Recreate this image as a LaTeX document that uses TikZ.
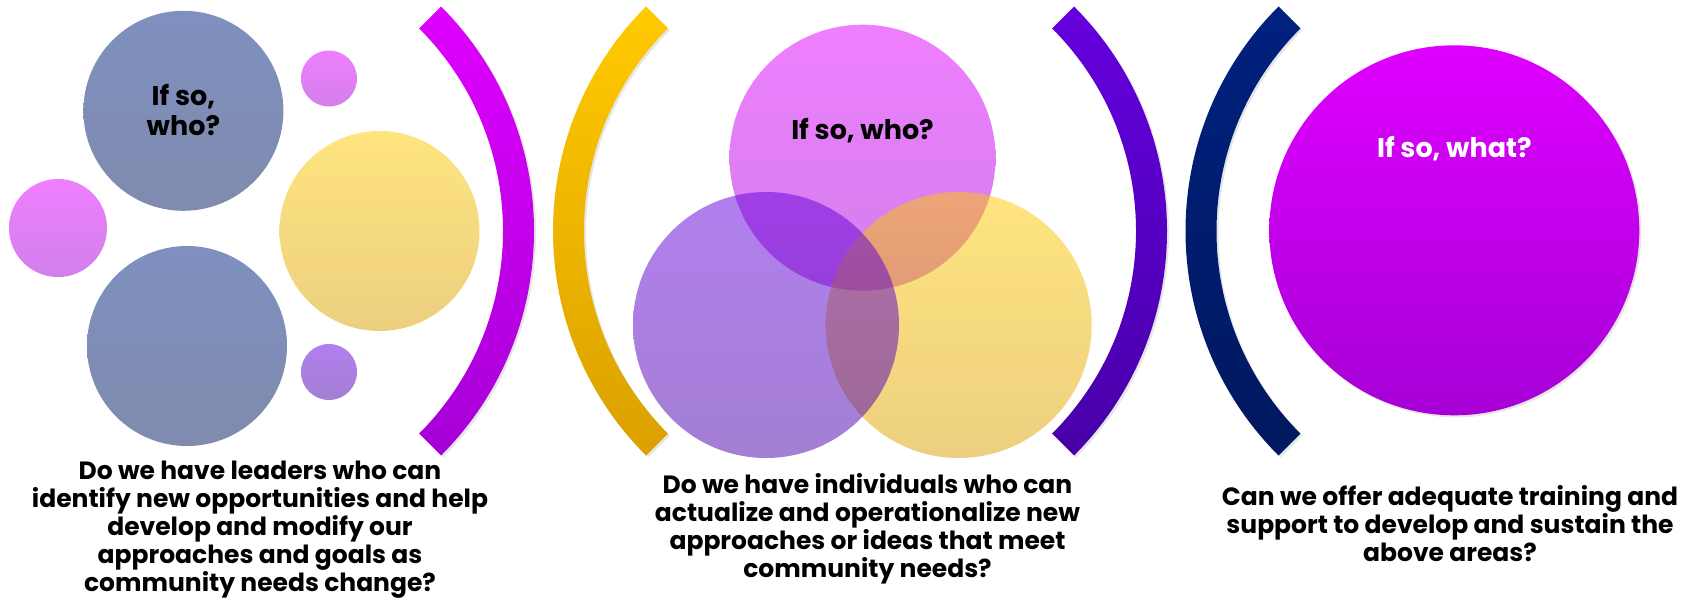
\documentclass[tikz,border=0pt]{standalone}
\usepackage{fontspec}
\setmainfont{Poppins}
\usetikzlibrary{shadows}

\definecolor{magtop}{HTML}{DF00FF}
\definecolor{magbot}{HTML}{A600D6}
\definecolor{yeltop}{HTML}{FFCA00}
\definecolor{yelbot}{HTML}{DBA000}
\definecolor{purtop}{HTML}{6400DE}
\definecolor{purbot}{HTML}{4800A8}
\definecolor{navtop}{HTML}{00217F}
\definecolor{navbot}{HTML}{00185E}

\tikzset{
    bubble/.style={shape=circle, inner sep=0pt, minimum size=#1},
    faded/.style={fill opacity=0.5},
    band/.style={drop shadow={shadow xshift=2pt, shadow yshift=-2pt, opacity=0.2}},
    ifso/.style={font=\fontsize{27}{30}\selectfont\bfseries, align=center, anchor=base},
    asktext/.style={font=\fontsize{25}{28}\selectfont\bfseries, align=center, anchor=base},
}

\begin{document}
\begin{tikzpicture}[x=1pt, y=-1pt]
        \useasboundingbox (0, 0) rectangle (1694, 602);

        % left cluster
        \node[bubble=200pt, top color=navtop, bottom color=navbot, faded] (lead1) at (183.4, 110.8) {};
        \node[bubble=200pt, top color=navtop, bottom color=navbot, faded] (lead2) at (187, 346) {};
        \node[bubble=98pt, top color=magtop, bottom color=magbot, faded] (dotL) at (58, 228) {};
        \node[bubble=56pt, top color=magtop, bottom color=magbot, faded] (dotT) at (329, 78.5) {};
        \node[bubble=56pt, top color=purtop, bottom color=purbot, faded] (dotB) at (329, 372) {};
        \node[bubble=200pt, top color=yeltop, bottom color=yelbot, faded] (goal) at (379.5, 231) {};
        \node[ifso] (who1) at (183.4, 135) {If so,\\who?};

        % brackets
        \coordinate (arcA) at (216.5, 231);
        \coordinate (arcB) at (870.5, 231);
        \coordinate (arcC) at (849.5, 231);
        \coordinate (arcD) at (1503, 231);
        \shade[band, top color=magtop, bottom color=magbot] ([shift={(-45:317.5)}]arcA) arc[start angle=-45, end angle=45, radius=317.5] -- ([shift={(45:286.5)}]arcA) arc[start angle=45, end angle=-45, radius=286.5] -- cycle;
        \shade[band, top color=yeltop, bottom color=yelbot] ([shift={(135:317.5)}]arcB) arc[start angle=135, end angle=225, radius=317.5] -- ([shift={(225:286.5)}]arcB) arc[start angle=225, end angle=135, radius=286.5] -- cycle;
        \shade[band, top color=purtop, bottom color=purbot] ([shift={(-45:317.5)}]arcC) arc[start angle=-45, end angle=45, radius=317.5] -- ([shift={(45:286.5)}]arcC) arc[start angle=45, end angle=-45, radius=286.5] -- cycle;
        \shade[band, top color=navtop, bottom color=navbot] ([shift={(135:317.5)}]arcD) arc[start angle=135, end angle=225, radius=317.5] -- ([shift={(225:286.5)}]arcD) arc[start angle=225, end angle=135, radius=286.5] -- cycle;

        % venn
        \node[bubble=266pt, top color=magtop, bottom color=magbot, faded] (venn1) at (862.5, 157.7) {};
        \node[bubble=266pt, top color=yeltop, bottom color=yelbot, faded] (venn3) at (958.7, 325) {};
        \node[bubble=266pt, top color=purtop, bottom color=purbot, faded] (venn2) at (766, 325) {};
        \node[ifso] (who2) at (862.5, 139) {If so, who?};

        % right circle
        \node[bubble=370pt, top color=magtop, bottom color=magbot, band] (train) at (1454.3, 230.3) {};
        \node[ifso, text=white] (what) at (1454.3, 157.7) {If so, what?};

        % questions (anchored at the last line)
        \node[asktext] (ask1) at (260, 591) {Do we have leaders who can\\identify new opportunities and help\\develop and modify our\\approaches and goals as\\community needs change?};
        \node[asktext] (ask2) at (867.5, 577) {Do we have individuals who can\\actualize and operationalize new\\approaches or ideas that meet\\community needs?};
        \node[asktext] (ask3) at (1450, 561) {Can we offer adequate training and\\support to develop and sustain the\\above areas?};
    \end{tikzpicture}
\end{document}
